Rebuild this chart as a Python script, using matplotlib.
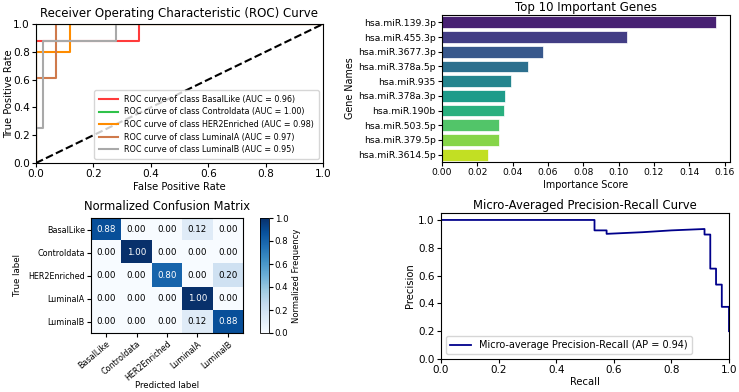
import numpy as np
import matplotlib
matplotlib.use("Agg")
import matplotlib.pyplot as plt

# ROC curves (fpr / tpr step points per class)
roc_classes = ["BasalLike", "Controldata", "HER2Enriched", "LuminalA", "LuminalB"]
roc_auc = [0.96, 1.00, 0.98, 0.97, 0.95]
roc_fpr = [
    [0.0, 0.0, 0.36, 0.36, 1.0],
    [0.0, 0.0, 1.0],
    [0.0, 0.0, 0.12, 0.12, 1.0],
    [0.0, 0.0, 0.07, 0.07, 1.0],
    [0.0, 0.0, 0.025, 0.025, 0.28, 0.28, 1.0],
]
roc_tpr = [
    [0.0, 0.875, 0.875, 1.0, 1.0],
    [0.0, 1.0, 1.0],
    [0.0, 0.8, 0.8, 1.0, 1.0],
    [0.0, 0.61, 0.61, 1.0, 1.0],
    [0.0, 0.25, 0.25, 0.875, 0.875, 1.0, 1.0],
]
roc_colors = ["#ff3b3b", "#2fc24a", "darkorange", "#cf7a4c", "darkgray"]

# feature importances
genes = ["hsa.miR.139.3p", "hsa.miR.455.3p", "hsa.miR.3677.3p", "hsa.miR.378a.5p",
         "hsa.miR.935", "hsa.miR.378a.3p", "hsa.miR.190b", "hsa.miR.503.5p",
         "hsa.miR.379.5p", "hsa.miR.3614.5p"]
importance = [0.1553, 0.1047, 0.0572, 0.0485, 0.0391, 0.0357, 0.0351, 0.0324, 0.0321, 0.0262]

# normalized confusion matrix
cm_labels = ["BasalLike", "Controldata", "HER2Enriched", "LuminalA", "LuminalB"]
cm = np.array([
    [0.88, 0.00, 0.00, 0.12, 0.00],
    [0.00, 1.00, 0.00, 0.00, 0.00],
    [0.00, 0.00, 0.80, 0.00, 0.20],
    [0.00, 0.00, 0.00, 1.00, 0.00],
    [0.00, 0.00, 0.00, 0.12, 0.88],
])

# micro-averaged precision-recall
pr_recall = [0.0, 0.533, 0.533, 0.575, 0.575, 0.70, 0.80, 0.915, 0.915, 0.935,
             0.935, 0.955, 0.955, 0.975, 0.975, 1.0, 1.0]
pr_precision = [1.0, 1.0, 0.925, 0.925, 0.90, 0.912, 0.925, 0.935, 0.895, 0.895,
                0.65, 0.65, 0.535, 0.535, 0.375, 0.375, 0.2]

W, H = 739, 392
fig = plt.figure(figsize=(W / 100, H / 100), dpi=100)


def box(l, t, r, b):
    return [l / W, 1 - b / H, (r - l) / W, (b - t) / H]


# --- ROC ---
ax1 = fig.add_axes(box(36, 24, 323, 163))
for i, c in enumerate(roc_classes):
    ax1.plot(roc_fpr[i], roc_tpr[i], color=roc_colors[i], lw=1.5,
             label=f"ROC curve of class {c} (AUC = {roc_auc[i]:.2f})")
ax1.plot([0, 1], [0, 1], "k--", lw=1.5)
ax1.set_xlim(0, 1)
ax1.set_ylim(0, 1)
ax1.set_xlabel("False Positive Rate", fontsize=7.2, labelpad=2)
ax1.set_ylabel("True Positive Rate", fontsize=7.2)
ax1.yaxis.set_label_coords(-0.077, 0.5)
ax1.set_title("Receiver Operating Characteristic (ROC) Curve", fontsize=8.5, pad=5)
ax1.tick_params(labelsize=7.6, length=3, pad=1.5)
ax1.legend(loc="lower right", fontsize=5.75, handlelength=2.4, borderpad=0.6, labelspacing=0.45)

# --- top genes ---
ax2 = fig.add_axes(box(442, 15, 730, 162))
bar_colors = plt.cm.viridis(np.linspace(0, 1, 12)[1:-1])
ypos = np.arange(len(genes))
ax2.barh(ypos, importance, height=0.8, color=bar_colors, edgecolor="white", linewidth=0.5)
ax2.set_yticks(ypos)
ax2.set_yticklabels(genes)
ax2.set_ylim(len(genes) - 0.5, -0.5)
ax2.set_xlim(0, max(importance) * 1.05)
ax2.set_xticks(np.arange(0, 0.17, 0.02))
ax2.set_xlabel("Importance Score", fontsize=6.9, labelpad=2)
ax2.set_ylabel("Gene Names", fontsize=6.9, labelpad=2)
ax2.set_title("Top 10 Important Genes", fontsize=8.5, pad=3)
ax2.tick_params(axis="x", labelsize=6.6, length=3, pad=1.5)
ax2.tick_params(axis="y", labelsize=6.7, length=3, pad=1.5)

# --- confusion matrix ---
ax3 = fig.add_axes(box(91, 218, 243, 333))
im = ax3.imshow(cm, cmap="Blues", vmin=0, vmax=1, aspect="auto")
for i in range(cm.shape[0]):
    for j in range(cm.shape[1]):
        ax3.text(j, i, f"{cm[i, j]:.2f}", ha="center", va="center", fontsize=6.3,
                 color="white" if cm[i, j] > 0.5 else "black")
ax3.set_xticks(range(len(cm_labels)))
ax3.set_yticks(range(len(cm_labels)))
ax3.set_xticklabels(cm_labels, rotation=40, ha="right", rotation_mode="anchor")
ax3.set_yticklabels(cm_labels)
ax3.tick_params(labelsize=5.8, length=3, pad=1.5)
ax3.set_xlabel("Predicted label", fontsize=6.2)
ax3.xaxis.set_label_coords(0.5, -0.42)
ax3.set_ylabel("True label", fontsize=6.2, labelpad=4)
ax3.set_title("Normalized Confusion Matrix", fontsize=8.3, pad=6)
cax = fig.add_axes(box(260, 218, 269, 333))
cb = fig.colorbar(im, cax=cax, ticks=np.arange(0, 1.01, 0.2))
cb.ax.tick_params(labelsize=6.2, length=3, pad=1)
cb.set_label("Normalized Frequency", fontsize=6, labelpad=3)
cb.outline.set_linewidth(0.6)

# --- precision-recall ---
ax4 = fig.add_axes(box(441, 213, 729, 359))
ax4.plot(pr_recall, pr_precision, color="darkblue", lw=1.3,
         label="Micro-average Precision-Recall (AP = 0.94)")
ax4.set_xlim(0, 1)
ax4.set_ylim(0, 1.05)
ax4.set_xlabel("Recall", fontsize=7.2, labelpad=1)
ax4.set_ylabel("Precision", fontsize=7.2, labelpad=2)
ax4.set_title("Micro-Averaged Precision-Recall Curve", fontsize=8.4, pad=3)
ax4.tick_params(labelsize=7.5, length=3, pad=1.5)
ax4.legend(loc="lower left", fontsize=7.05, handlelength=2.2)

fig.savefig("out.png", dpi=100)
